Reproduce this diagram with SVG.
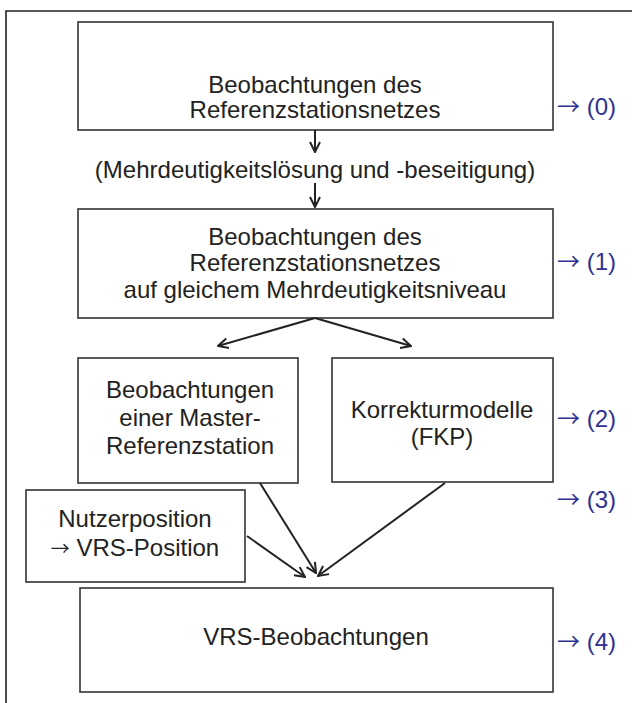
<svg xmlns="http://www.w3.org/2000/svg" width="632" height="703" viewBox="0 0 632 703">
<style>
.box{fill:#fff;stroke:#333;stroke-width:1.6}
.t{font-family:"Liberation Sans",Arial,sans-serif;font-size:24px;fill:#222;text-anchor:middle}
.lbl{font-family:"Liberation Sans",Arial,sans-serif;font-size:24px;fill:#2e3192}
.ar{font-family:"Noto Sans CJK JP","DejaVu Sans",sans-serif;font-size:23px}
.c{fill:none;stroke:#222;stroke-width:2}
</style>
<defs>
<marker id="ah" viewBox="0 0 12 12" refX="11" refY="6" markerWidth="12" markerHeight="12" markerUnits="userSpaceOnUse" orient="auto">
<path d="M1,1 L11,6 L1,11" fill="none" stroke="#222" stroke-width="2"/>
</marker>
</defs>
<rect width="632" height="703" fill="#fff"/>
<path d="M632,11 H6 V703" fill="none" stroke="#222" stroke-width="1.6"/>
<g id="n0">
<rect class="box" x="78" y="22" width="475" height="108"/>
<text class="t" x="315" y="93">Beobachtungen des</text>
<text class="t" x="315" y="118">Referenzstationsnetzes</text>
</g>
<g id="mid">
<text class="t" x="315" y="178">(Mehrdeutigkeitslösung und -beseitigung)</text>
</g>
<g id="n1">
<rect class="box" x="78" y="209" width="475" height="109"/>
<text class="t" x="315" y="245">Beobachtungen des</text>
<text class="t" x="315" y="271">Referenzstationsnetzes</text>
<text class="t" x="315" y="298">auf gleichem Mehrdeutigkeitsniveau</text>
</g>
<g id="n2">
<rect class="box" x="78" y="358" width="220" height="125"/>
<text class="t" x="190" y="398">Beobachtungen</text>
<text class="t" x="190" y="426">einer Master-</text>
<text class="t" x="190" y="454">Referenzstation</text>
</g>
<g id="n3">
<rect class="box" x="332" y="358" width="221" height="124"/>
<text class="t" x="442" y="418">Korrekturmodelle</text>
<text class="t" x="442" y="445">(FKP)</text>
</g>
<g id="n4">
<rect class="box" x="26" y="490" width="219" height="92"/>
<text class="t" x="135" y="527">Nutzerposition</text>
<text class="t" x="135" y="556"><tspan font-family="Noto Sans CJK JP,DejaVu Sans,sans-serif" font-size="19">→</tspan> VRS-Position</text>
</g>
<g id="n5">
<rect class="box" x="80" y="588" width="473" height="104"/>
<text class="t" x="316" y="645">VRS-Beobachtungen</text>
</g>
<g id="labels">
<text class="lbl" x="557" y="115"><tspan class="ar">→</tspan> (0)</text>
<text class="lbl" x="557" y="270"><tspan class="ar">→</tspan> (1)</text>
<text class="lbl" x="557" y="427"><tspan class="ar">→</tspan> (2)</text>
<text class="lbl" x="557" y="508"><tspan class="ar">→</tspan> (3)</text>
<text class="lbl" x="557" y="650"><tspan class="ar">→</tspan> (4)</text>
</g>
<g id="connectors">
<path class="c" d="M315,130 V152" marker-end="url(#ah)"/>
<path class="c" d="M315,183 V207" marker-end="url(#ah)"/>
<path class="c" d="M315,318 L218,346" marker-end="url(#ah)"/>
<path class="c" d="M315,318 L411,346" marker-end="url(#ah)"/>
<path class="c" d="M260,483 L316,573" marker-end="url(#ah)"/>
<path class="c" d="M445,483 L318,576" marker-end="url(#ah)"/>
<path class="c" d="M247,536 L305,577" marker-end="url(#ah)"/>
</g>
</svg>
